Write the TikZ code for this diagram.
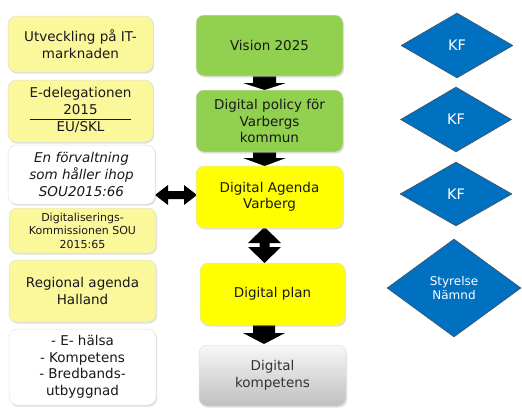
\documentclass[tikz,border=0pt]{standalone}
\usepackage{fontspec}
\setmainfont{DejaVu Sans}
\usetikzlibrary{shapes.geometric,shadows,backgrounds}
\definecolor{paleY}{HTML}{FBF79B}
\definecolor{grn}{HTML}{92D050}
\definecolor{ylw}{HTML}{FFFF00}
\definecolor{blu}{HTML}{0070C0}
\begin{document}
\begin{tikzpicture}[x=1pt,y=-1pt,
  box/.style={rectangle,rounded corners=8pt,minimum width=147pt,minimum height=62pt,
    align=center,inner sep=2pt,font=\fontsize{13.5}{16.5}\selectfont,text=black!90,
    draw=black!12,line width=0.5pt,
    drop shadow={shadow xshift=1pt,shadow yshift=-1.5pt,opacity=0.25}},
  paleBox/.style={box,fill=paleY},
  whiteBox/.style={box,fill=white},
  greenBox/.style={box,fill=grn},
  yellowBox/.style={box,fill=ylw},
  grayBox/.style={box,top color=white!97!black,bottom color=black!25,text=black!80},
  dia/.style={diamond,fill=blu,draw=black!70,line width=0.5pt,inner sep=0pt,text=white,
    align=center,minimum width=112pt,minimum height=65pt,font=\fontsize{14.5}{16}\selectfont},
  blockarrow/.style={fill=black,draw=none}
]
\useasboundingbox (0,0) rectangle (522,407);

% left column
\node[paleBox,minimum width=145pt,minimum height=56pt] (L1) at (80.5,44) {Utveckling på IT-\\marknaden};
\node[paleBox,minimum width=145pt,minimum height=62pt] (L2) at (80.5,111)
  {\begin{tabular}{@{}c@{}}E-delegationen\\2015\\\hline EU/SKL\end{tabular}};
\node[whiteBox,minimum height=59pt,font=\fontsize{13.5}{17}\selectfont\itshape] (L3) at (81.5,174.5)
  {En förvaltning\\som håller ihop\\SOU2015:66};
\node[paleBox,minimum height=45pt,font=\fontsize{11}{13.5}\selectfont] (L4) at (82.5,230.5)
  {Digitaliserings-\\Kommissionen SOU\\2015:65};
\node[paleBox] (L5) at (82.5,291) {Regional agenda\\Halland};
\node[whiteBox,minimum height=76pt] (L6) at (82.5,367)
  {- E- hälsa\\- Kompetens\\- Bredbands-\\utbyggnad};

% centre column
\node[greenBox,minimum height=61pt] (C1) at (269.5,45.5) {Vision 2025};
\node[greenBox] (C2) at (269.5,121) {Digital policy för\\Varbergs\\kommun};
\node[yellowBox] (C3) at (269.5,197) {Digital Agenda\\Varberg};
\node[yellowBox,minimum width=145pt] (C4) at (272.5,294) {Digital plan};
\node[grayBox,minimum height=61pt] (C5) at (272.5,375.5) {Digital\\kompetens};

% diamonds
\node[dia] (D1) at (457,45.5) {KF};
\node[dia,minimum width=111pt] (D2) at (456,119.5) {KF};
\node[dia,minimum height=64pt] (D3) at (456,194) {KF};
\node[dia,minimum width=134pt,minimum height=98pt,font=\fontsize{12}{13.5}\selectfont] (D4) at (454,288) {Styrelse\\Nämnd};

% block arrows
\begin{scope}[on background layer]
\fill[blockarrow] (253,74) -- (276,74) -- (276,83) -- (286,83) -- (264.5,90) -- (243,83) -- (253,83) -- cycle;
\fill[blockarrow] (253,150) -- (276,150) -- (276,158) -- (286,158) -- (264.5,166) -- (243,158) -- (253,158) -- cycle;
\fill[blockarrow] (253,323) -- (275,323) -- (275,333) -- (285,333) -- (264,344) -- (243,333) -- (253,333) -- cycle;
\fill[blockarrow] (155,195) -- (168,185) -- (168,191) -- (184,191) -- (184,185) -- (197,195)
  -- (184,205) -- (184,199) -- (168,199) -- (168,205) -- cycle;
\fill[blockarrow] (264.5,227) -- (281,243) -- (269.5,243) -- (269.5,247) -- (281,247) -- (264.5,263)
  -- (248,247) -- (259.5,247) -- (259.5,243) -- (248,243) -- cycle;
\end{scope}
\end{tikzpicture}
\end{document}
